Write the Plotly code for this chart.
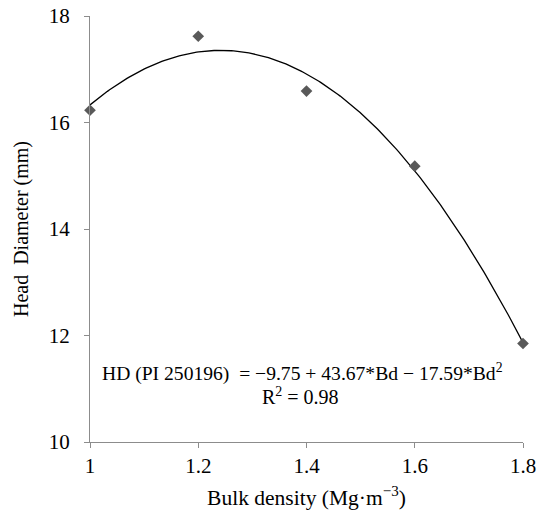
import numpy as np
import plotly.graph_objects as go

bulk_density = [1.0, 1.2, 1.4, 1.6, 1.8]
head_diameter = [16.23, 17.62, 16.59, 15.18, 11.85]
coef = [-9.75, 43.67, -17.59]  # fitted quadratic from the chart equation

xs = np.linspace(1.0, 1.8, 200)
ys = coef[0] + coef[1] * xs + coef[2] * xs ** 2

font = "Liberation Serif"
fig = go.Figure()
fig.add_trace(go.Scatter(x=xs, y=ys, mode="lines", line=dict(color="black", width=1.3),
                         hoverinfo="skip", showlegend=False, cliponaxis=False))
fig.add_trace(go.Scatter(x=bulk_density, y=head_diameter, mode="markers",
                         marker=dict(symbol="diamond", size=9, color="#595959"),
                         showlegend=False, cliponaxis=False))

axis_common = dict(showgrid=False, zeroline=False, showline=True, linecolor="#8c8c8c",
                   linewidth=1, ticks="outside", ticklen=5, tickcolor="#8c8c8c", automargin=False,
                   ticklabeloverflow="allow",
                   tickfont=dict(family=font, size=21, color="black"))
fig.update_xaxes(range=[1.0, 1.8], tickvals=[1, 1.2, 1.4, 1.6, 1.8],
                 ticktext=["1", "1.2", "1.4", "1.6", "1.8"],
                 title=dict(text="Bulk density (Mg·m<sup>−3</sup>)", font=dict(family=font, size=21.5, color="black"), standoff=12),
                 **axis_common)
fig.update_yaxes(range=[10, 18], tickvals=[10, 12, 14, 16, 18], ticklabelstandoff=10,
                 title=dict(text="Head&nbsp; Diameter (mm)", font=dict(family=font, size=20, color="black"), standoff=14),
                 **axis_common)

fig.add_annotation(xref="paper", yref="paper", x=0.023, y=0.163, xanchor="left", yanchor="middle",
                   text="HD (PI 250196)&nbsp; = −9.75 + 43.67*Bd − 17.59*Bd<sup>2</sup>",
                   showarrow=False, font=dict(family=font, size=19.6, color="black"))
fig.add_annotation(xref="paper", yref="paper", x=0.487, y=0.107, xanchor="center", yanchor="middle",
                   text="R<sup>2</sup> = 0.98",
                   showarrow=False, font=dict(family=font, size=20, color="black"))

fig.update_layout(width=539, height=525, margin=dict(l=90, r=16, t=16, b=83),
                  font=dict(family=font), plot_bgcolor="white", paper_bgcolor="white")
fig.write_html("out.html", config={"displayModeBar": False},
               post_script="document.body.style.margin='0';")
